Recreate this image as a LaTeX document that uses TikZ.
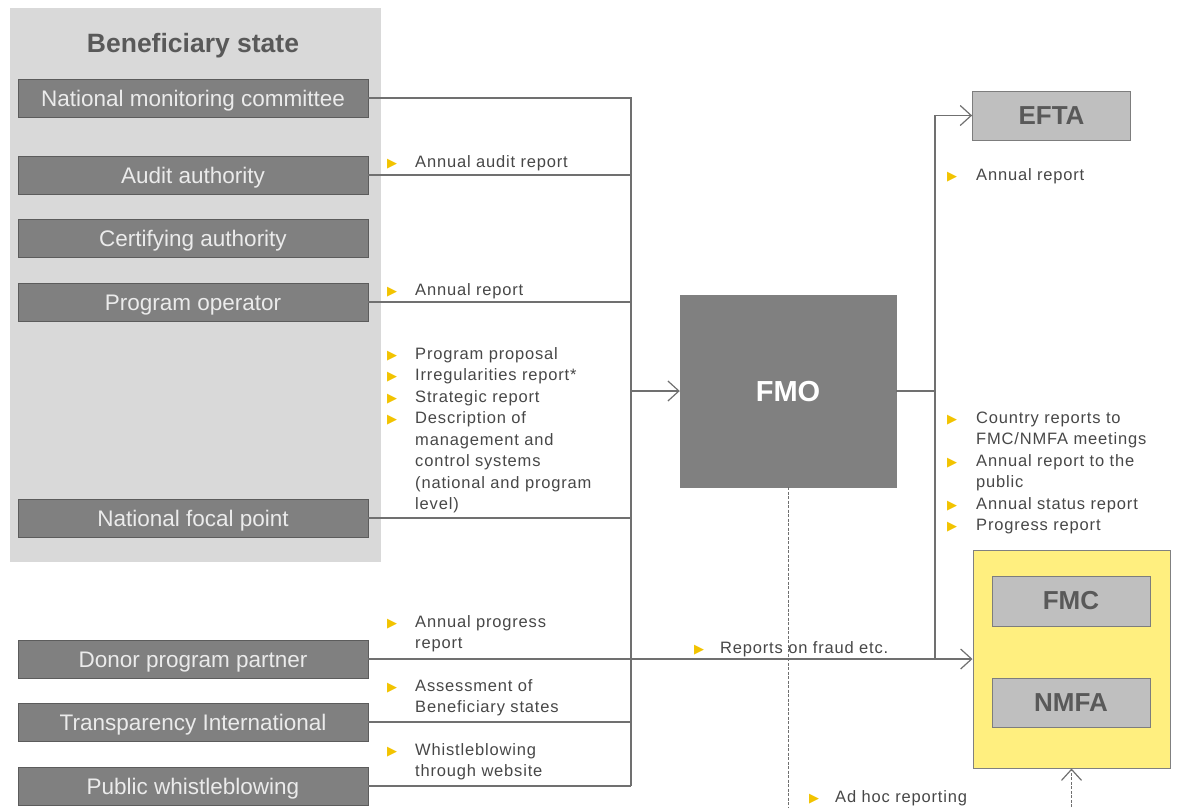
\documentclass[tikz,border=0pt]{standalone}
\usepackage{fontspec}
\setmainfont{Liberation Sans}
\newfontfamily\dvfont{DejaVu Sans}
\newfontfamily\labfont{Liberation Sans}[LetterSpace=5]
\usetikzlibrary{arrows.meta}

\definecolor{panel}{HTML}{D9D9D9}
\definecolor{boxfill}{HTML}{808080}
\definecolor{boxedge}{HTML}{5C5C5C}
\definecolor{boxtext}{HTML}{EBEBEB}
\definecolor{lightbox}{HTML}{BFBFBF}
\definecolor{darktext}{HTML}{595959}
\definecolor{linec}{HTML}{707070}
\definecolor{bulc}{HTML}{F2C300}
\definecolor{yel}{HTML}{FFEF7F}
\definecolor{labtext}{HTML}{474747}

% yellow bullet for report lists, set in a box of the given width
\newcommand{\bul}[1]{\makebox[#1][l]{\raisebox{0pt}{\dvfont\color{bulc}\fontsize{13}{13}\selectfont ▶}}}

\tikzset{
  unit/.style={draw=boxedge, fill=boxfill, line width=0.8pt,
    minimum width=350pt, minimum height=38pt, inner sep=0pt,
    text height=18pt, text depth=2pt,
    text=boxtext, font=\fontsize{22.5}{24}\selectfont},
  body/.style={draw=boxedge!80, fill=lightbox, line width=0.8pt,
    minimum width=158pt, minimum height=49pt, inner sep=0pt,
    text=darktext, font=\fontsize{26}{28}\selectfont\bfseries},
  lab/.style={anchor=base west, inner sep=0pt, text=labtext,
    font=\labfont\fontsize{16.5}{21.5}\selectfont},
  conn/.style={draw=linec, line width=1.2pt},
  tip/.style={-{Straight Barb[length=11pt,width=20pt,line width=1.2pt]}},
  dconn/.style={draw=linec, line width=1pt, dash pattern=on 3pt off 1.5pt},
}

\begin{document}
\begin{tikzpicture}[x=1pt,y=-1pt]
\useasboundingbox (0,0) rectangle (1177,807);

% beneficiary state panel
\fill[panel] (10,8) rectangle (381,562);
\node[text=darktext, text height=19pt, text depth=0pt,
      font=\fontsize{26.5}{28}\selectfont\bfseries] (bstitle) at (193,43) {Beneficiary state};

% reporting units
\node[unit] (nmc) at (193,98)  {National monitoring committee};
\node[unit] (aa)  at (193,175) {Audit authority};
\node[unit] (ca)  at (193,238) {Certifying authority};
\node[unit] (po)  at (193,302) {Program operator};
\node[unit] (nfp) at (193,518) {National focal point};
\node[unit] (dpp) at (193,659) {Donor program partner};
\node[unit] (ti)  at (193,722) {Transparency International};
\node[unit] (pw)  at (193,786) {Public whistleblowing};

% FMO and recipients
\node[draw=boxfill, fill=boxfill, minimum width=216pt, minimum height=192pt,
      inner sep=0pt, text height=21pt, text depth=0pt,
      text=white, font=\fontsize{29}{32}\selectfont\bfseries] (fmo) at (788,391) {FMO};
\node[body] (efta) at (1051.5,115.5) {EFTA};
\node[draw=boxfill, fill=yel, line width=1pt, minimum width=197pt, minimum height=218pt,
      inner sep=0pt] (fmb) at (1071.5,659) {};
\node[body, minimum width=158pt, minimum height=50pt] (fmc)  at (1071,601) {FMC};
\node[body, minimum width=158pt, minimum height=49pt] (nmfa) at (1071,702.5) {NMFA};

% collecting bus on the left
\coordinate (busB) at (631,786);
\draw[conn] (nmc.east) -| (busB);
\draw[conn] (aa.east)  -- (aa.east -| busB);
\draw[conn] (po.east)  -- (po.east -| busB);
\draw[conn] (nfp.east) -- (nfp.east -| busB);
\draw[conn] (ti.east)  -- (ti.east -| busB);
\draw[conn] (pw.east)  -- (pw.east -| busB);
\draw[conn, tip] (fmo.west -| busB) -- (fmo.west);

% donor partner straight to the committees
\draw[conn, tip] (dpp.east) -- (fmb.west);

% distribution bus on the right
\coordinate (rb) at (935,659);
\draw[conn] (fmo.east) -- (fmo.east -| rb);
\draw[conn, tip] (rb) |- (efta.west);

% ad hoc reporting loop
\draw[dconn, tip] (fmo.south) -- ++(0,340) -| (fmb.south);

% report labels
\node[lab] (l1) at (387,167) {\begin{tabular}[t]{@{}l@{}l@{}}\bul{28pt} & Annual audit report\end{tabular}};
\node[lab] (l2) at (387,295) {\begin{tabular}[t]{@{}l@{}l@{}}\bul{28pt} & Annual report\end{tabular}};
\node[lab] (l3) at (387,359) {\begin{tabular}[t]{@{}l@{}l@{}}
  \bul{28pt} & Program proposal\\
  \bul{28pt} & Irregularities report*\\
  \bul{28pt} & Strategic report\\
  \bul{28pt} & Description of\\
       & management and\\
       & control systems\\
       & (national and program\\
       & level)\end{tabular}};
\node[lab] (l4) at (387,627) {\begin{tabular}[t]{@{}l@{}l@{}}\bul{28pt} & Annual progress\\ & report\end{tabular}};
\node[lab] (l5) at (387,691) {\begin{tabular}[t]{@{}l@{}l@{}}\bul{28pt} & Assessment of\\ & Beneficiary states\end{tabular}};
\node[lab] (l6) at (387,755) {\begin{tabular}[t]{@{}l@{}l@{}}\bul{28pt} & Whistleblowing\\ & through website\end{tabular}};
\node[lab] (l7) at (694,653) {\begin{tabular}[t]{@{}l@{}l@{}}\bul{26pt} & Reports on fraud etc.\end{tabular}};
\node[lab] (l8) at (947,180) {\begin{tabular}[t]{@{}l@{}l@{}}\bul{29pt} & Annual report\end{tabular}};
\node[lab] (l9) at (947,423) {\begin{tabular}[t]{@{}l@{}l@{}}
  \bul{29pt} & Country reports to\\
       & FMC/NMFA meetings\\
  \bul{29pt} & Annual report to the\\
       & public\\
  \bul{29pt} & Annual status report\\
  \bul{29pt} & Progress report\end{tabular}};
\node[lab] (l10) at (809,802) {\begin{tabular}[t]{@{}l@{}l@{}}\bul{26pt} & Ad hoc reporting\end{tabular}};
\end{tikzpicture}
\end{document}
